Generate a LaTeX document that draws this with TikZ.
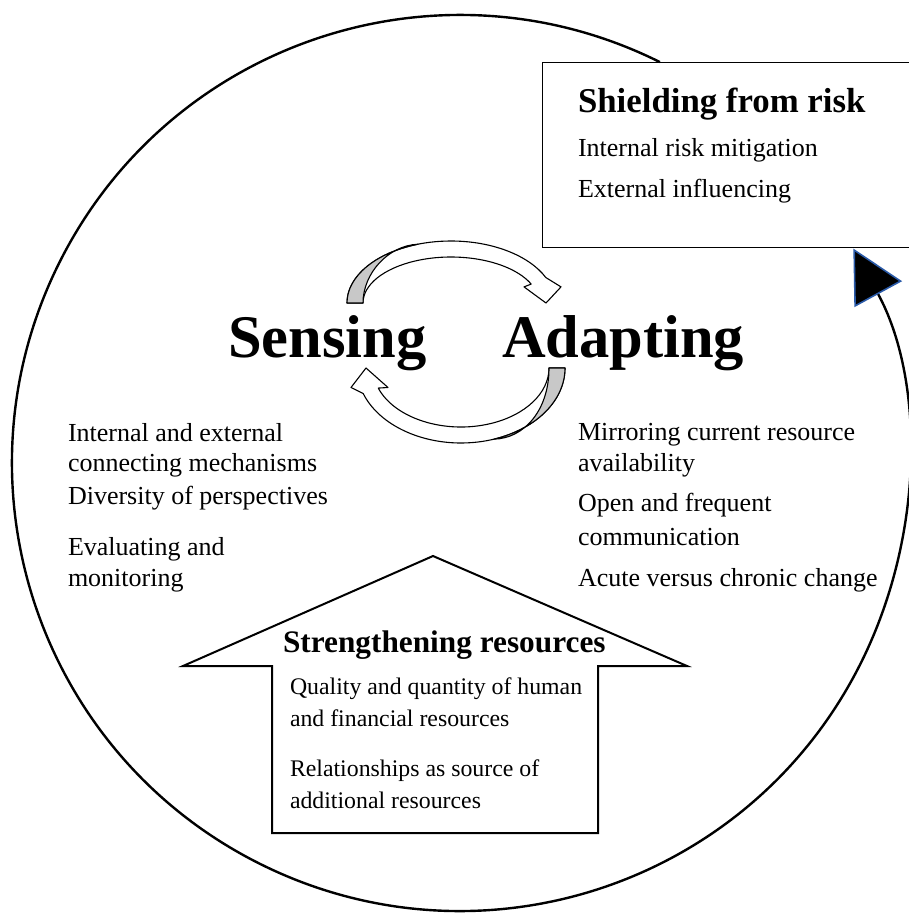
\documentclass[tikz,border=0pt]{standalone}
\usepackage{fontspec}
\setmainfont{Liberation Serif}
\usetikzlibrary{arrows.meta,calc}
\definecolor{ringblue}{HTML}{2A5AA8}
\definecolor{bandgray}{HTML}{C8C8C8}

\begin{document}
\begin{tikzpicture}[x=1pt,y=1pt,
  txt/.style={anchor=base west, inner sep=0pt, outer sep=0pt},
  body/.style={txt, font=\fontsize{26}{30}\selectfont},
  small/.style={txt, font=\fontsize{23.8}{28}\selectfont},
  head/.style={txt, font=\fontsize{34.8}{40}\selectfont\bfseries},
  subhead/.style={txt, font=\fontsize{31.3}{36}\selectfont\bfseries},
  hugelabel/.style={txt, font=\fontsize{60.5}{70}\selectfont\bfseries},
  ringline/.style={line width=2.4pt},
  bandline/.style={line width=1.1pt, line join=round},
  % curved ribbon arrow; the argument is the outer vertical radius
  bandarrow/.pic={
    \pgfmathsetmacro\bandro{#1}
    \pgfmathsetmacro\bandri{#1-16}
    \pgfmathsetmacro\bandea{asin(25.5/#1)}
    \pgfmathsetmacro\bandwy{32.5+0.26*#1}
    \draw[bandline, fill=white] (-109,32.5)
      arc[start angle=180, end angle=\bandea, x radius=104, y radius=\bandro]
      -- (105,\bandwy) -- (90,32.5) -- (68,\bandwy)
      -- ($(-5,32.5)+(\bandea:88 and \bandri)$)
      arc[start angle=\bandea, end angle=180, x radius=88, y radius=\bandri] -- cycle;
    % shaded underside of the ribbon
    \draw[bandline, fill=bandgray] (-109,32.5)
      arc[start angle=180, end angle=108.5, x radius=104, y radius=\bandro]
      .. controls (-68,\bandro+28) and (-93,\bandro) .. (-93,32.5) -- cycle;
  }
]
\useasboundingbox (0,0) rectangle (908,-913);

% outer cycle ring ending at the shielding box
\coordinate (ringc) at (460,-463);
\coordinate (ringstart) at ($(ringc)+(63.5:448)$);
\draw[ringline, -{Triangle[length=52pt, width=54pt, color=ringblue, fill=black, line width=1.6pt]}]
  (ringstart) arc[start angle=63.5, end angle=388.6, radius=448];

% shielding box
\node[draw, line width=1.3pt, minimum width=400pt, minimum height=185pt,
      anchor=north west, inner sep=0pt] (shield) at (542,-62) {};
\node[head] (shieldtitle) at (578,-112) {Shielding from risk};
\node[body] (shield1) at (578,-156) {Internal risk mitigation};
\node[body] (shield2) at (578,-197) {External influencing};

% sensing / adapting loop
\pic at (456,-335.5) {bandarrow=62};
\pic[rotate=180] at (456,-335.5) {bandarrow=75};
\node[hugelabel] (sensing) at (228,-357) {Sensing};
\node[hugelabel] (adapting) at (502,-357) {Adapting};

% sensing items
\node[body] (sense1a) at (68,-441) {Internal and external};
\node[body] (sense1b) at (68,-471) {connecting mechanisms};
\node[body] (sense2) at (68,-504) {Diversity of perspectives};
\node[body] (sense3a) at (68,-555) {Evaluating and};
\node[body] (sense3b) at (68,-586) {monitoring};

% adapting items
\node[body] (adapt1a) at (578,-440) {Mirroring current resource};
\node[body] (adapt1b) at (578,-471) {availability};
\node[body] (adapt2a) at (578,-511) {Open and frequent};
\node[body] (adapt2b) at (578,-545) {communication};
\node[body] (adapt3) at (578,-586) {Acute versus chronic change};

% strengthening arrow
\draw[line width=2pt] (433,-556) -- (687,-666) -- (598,-666) -- (598,-833)
  -- (272,-833) -- (272,-666) -- (183,-666) -- cycle;
\node[subhead] (strength) at (283,-652) {Strengthening resources};
\node[small] (strength1a) at (290,-694) {Quality and quantity of human};
\node[small] (strength1b) at (290,-726) {and financial resources};
\node[small] (strength2a) at (290,-776) {Relationships as source of};
\node[small] (strength2b) at (290,-808) {additional resources};
\end{tikzpicture}
\end{document}
